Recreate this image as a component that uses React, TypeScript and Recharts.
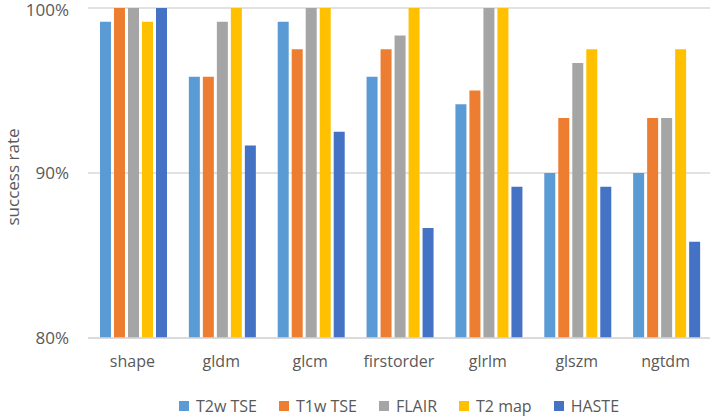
import React from 'react';
import { BarChart, Bar, XAxis, YAxis, CartesianGrid, Legend } from 'recharts';

const categories = ['shape', 'gldm', 'glcm', 'firstorder', 'glrlm', 'glszm', 'ngtdm'];
const t2wTse = [99.17, 95.83, 99.17, 95.83, 94.17, 90.0, 90.0];
const t1wTse = [100, 95.83, 97.5, 97.5, 95.0, 93.33, 93.33];
const flair = [100, 99.17, 100, 98.33, 100, 96.67, 93.33];
const t2Map = [99.17, 100, 100, 100, 100, 97.5, 97.5];
const haste = [100, 91.67, 92.5, 86.67, 89.17, 89.17, 85.83];
const yTicks = [80, 90, 100];

const seriesDefs = [
  { key: 'T2w TSE', values: t2wTse, color: '#5B9BD5' },
  { key: 'T1w TSE', values: t1wTse, color: '#ED7D31' },
  { key: 'FLAIR', values: flair, color: '#A5A5A5' },
  { key: 'T2 map', values: t2Map, color: '#FFC000' },
  { key: 'HASTE', values: haste, color: '#4472C4' },
];

const data = categories.map((c, i) => {
  const row: Record<string, any> = { name: c };
  seriesDefs.forEach((s) => {
    row[s.key] = s.values[i];
  });
  return row;
});

const FONT = '"Open Sans", sans-serif';
const TEXT = '#595959';

const LegendContent = () => (
  <div
    style={{
      height: 40,
      paddingTop: 18,
      boxSizing: 'border-box',
      display: 'flex',
      justifyContent: 'center',
      alignItems: 'center',
      fontFamily: FONT,
      fontSize: 16,
      color: TEXT,
      lineHeight: '22px',
    }}
  >
    {seriesDefs.map((s, i) => (
      <div key={s.key} style={{ display: 'flex', alignItems: 'center', marginLeft: i === 0 ? 0 : 22 }}>
        <span style={{ width: 10, height: 10, background: s.color, display: 'inline-block', marginRight: 7 }} />
        <span>{s.key}</span>
      </div>
    ))}
  </div>
);

export default function App() {
  return (
    <div style={{ position: 'absolute', left: 0, top: 0, width: 712, height: 417, background: '#fff' }}>
      <BarChart
        width={712}
        height={417}
        data={data}
        margin={{ top: 8, right: 2, left: 0, bottom: 0 }}
        barCategoryGap="13.5%"
        barGap={3}
      >
        <CartesianGrid vertical={false} stroke="#d9d9d9" strokeWidth={1.3} />
        <XAxis
          dataKey="name"
          axisLine={{ stroke: '#d9d9d9', strokeWidth: 1.3 }}
          tickLine={false}
          tickSize={0}
          tickMargin={18}
          height={39}
          interval={0}
          tick={{ fill: TEXT, fontSize: 16, fontFamily: FONT }}
        />
        <YAxis
          domain={[80, 100]}
          ticks={yTicks}
          allowDataOverflow
          axisLine={false}
          tickLine={false}
          tickSize={0}
          tickMargin={19}
          width={88}
          tickFormatter={(v: number) => `${v}%`}
          tick={{ fill: TEXT, fontSize: 17, fontFamily: FONT }}
          label={{
            value: 'success rate',
            angle: -90,
            position: 'insideLeft',
            offset: 13,
            dy: 4,
            style: { textAnchor: 'middle', fill: TEXT, fontSize: 17, fontFamily: FONT },
          }}
        />
        <Legend
          verticalAlign="bottom"
          content={<LegendContent />}
          wrapperStyle={{ left: 88, width: 622 }}
        />
        {seriesDefs.map((s) => (
          <Bar key={s.key} dataKey={s.key} fill={s.color} isAnimationActive={false} />
        ))}
      </BarChart>
    </div>
  );
}
